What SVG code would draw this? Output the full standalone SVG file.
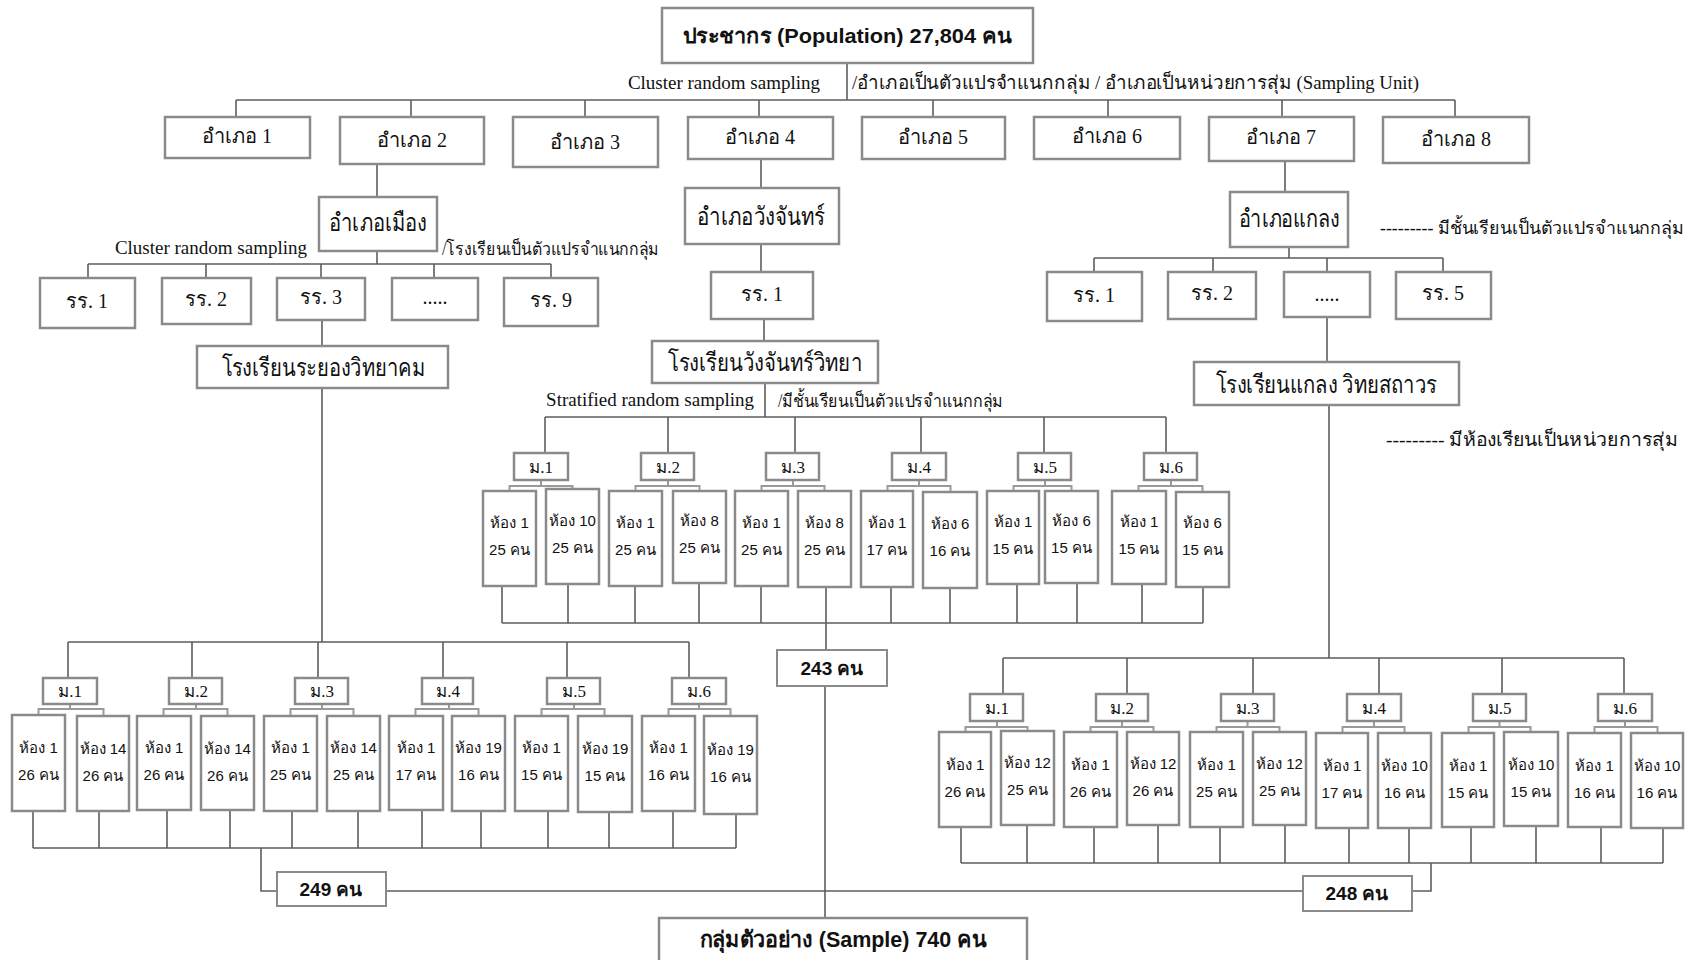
<svg xmlns="http://www.w3.org/2000/svg" width="1699" height="960" viewBox="0 0 1699 960">
<style>
.bx{fill:#fff;stroke:#8a8a8a;stroke-width:2.5}
.sb{fill:#fff;stroke:#8a8a8a;stroke-width:2}
.ln{fill:none;stroke:#5e5e5e;stroke-width:1.6}
.br{fill:none;stroke:#9a9a9a;stroke-width:2}
text{fill:#111;text-anchor:middle}
.th{font-family:"Liberation Serif","Noto Sans",serif}
.en{font-family:"Liberation Serif",serif;font-size:19px}
.bd{font-family:"Liberation Sans","Noto Sans",sans-serif;font-weight:bold}
.rm{font-family:"Liberation Sans","Noto Sans",sans-serif;font-size:15px}
.mm{font-family:"Liberation Serif","Noto Sans",serif;font-size:17px}
.l{text-anchor:start}
.r{text-anchor:end}
</style>
<g id="connectors">
<path class="ln" d="M847 63V100M236 100H1455M236 100V117M411 100V117M585 100V117M759 100V117M933 100V117M1108 100V117M1282 100V117M1455 100V117"/>
<path class="ln" d="M377 164V197M377 251V264M88 264H551M88 264V278M206 264V278M321 264V278M434 264V278M551 264V278M322 320V346M322 388V642"/>
<path class="ln" d="M761 159V188M761 244V272M764 319V341M765 383V417M545 417H1166M545 417V453M668 417V453M795 417V453M921 417V453M1044 417V453M1166 417V453"/>
<path class="ln" d="M1285 161V192M1289 247V258M1094 258H1443M1094 258V272M1213 258V272M1327 258V272M1443 258V272M1327 317V362M1329 405V658"/>
<path class="ln" d="M68 642H689M68 642V678M192 642V678M318 642V678M443 642V678M567 642V678M689 642V678"/>
<path class="ln" d="M1003 658H1624M1003 658V694M1127 658V694M1253 658V694M1379 658V694M1502 658V694M1624 658V694"/>
<path class="br" d="M509.5 491V486H572.5V491M541 480V486M635.5 491V486H699.5V491M668 480V486M761.5 491V486H824.5V491M793 480V486M887.5 491V486H950.5V491M919 480V486M1013.5 491V486H1071.5V491M1045 480V486M1138.5 491V486H1202.5V491M1171 480V486"/>
<path class="br" d="M38.5 715V709H103.5V715M70 704V709M163.5 715V709H227.5V715M196 704V709M290.5 715V709H353.5V715M322 704V709M415.5 715V709H478.5V715M449 704V709M541.5 715V709H604.5V715M574 704V709M668.5 715V709H730.5V715M699 704V709"/>
<path class="br" d="M965.5 732V727H1027.5V732M997 721V727M1090.5 732V727H1153.5V732M1122 721V727M1216.5 732V727H1279.5V732M1247.5 721V727M1342.5 732V727H1404.5V732M1374 721V727M1468.5 732V727H1530.5V732M1499.5 721V727M1594.5 732V727H1657.5V732M1625 721V727"/>
<path class="ln" d="M502 586V623M568 584V623M635 586V623M699 583V623M761 586V623M826 587V650M891 587V623M950 588V623M1017 584V623M1077 583V623M1142 584V623M1203 587V623M502 623H1203M825 686V918"/>
<path class="ln" d="M33 811V848M99 811V848M167 810V848M230 810V848M292 811V848M358 811V848M422 810V848M481 811V848M548 811V848M609 812V848M673 811V848M736 814V848M33 848H736M261 848V891H277M386 891H1303"/>
<path class="ln" d="M961 827V863M1027 825V863M1094 827V863M1158 825V863M1220 827V863M1285 825V863M1349 828V863M1409 828V863M1471 827V863M1536 826V863M1601 827V863M1663 828V863M961 863H1663M1431 863V891H1412"/>
</g>
<g id="population"><rect class="bx" x="662" y="8" width="371" height="55"/><text class="bd" x="847" y="43" font-size="21" textLength="328" lengthAdjust="spacingAndGlyphs">ประชากร (Population) 27,804 คน</text></g>
<g id="label-top"><text class="en r" x="820" y="89">Cluster random sampling</text><text class="th l" x="852" y="89" font-size="19" textLength="567" lengthAdjust="spacingAndGlyphs">/อำเภอเป็นตัวแปรจำแนกกลุ่ม / อำเภอเป็นหน่วยการสุ่ม (Sampling Unit)</text></g>
<g id="amphoe1"><rect class="bx" x="165" y="117" width="145" height="41"/><text class="th" x="237" y="143" font-size="20">อำเภอ 1</text></g>
<g id="amphoe2"><rect class="bx" x="340" y="117" width="144" height="47"/><text class="th" x="412" y="147" font-size="20">อำเภอ 2</text></g>
<g id="amphoe3"><rect class="bx" x="513" y="117" width="145" height="50"/><text class="th" x="585" y="149" font-size="20">อำเภอ 3</text></g>
<g id="amphoe4"><rect class="bx" x="688" y="117" width="145" height="42"/><text class="th" x="760" y="144" font-size="20">อำเภอ 4</text></g>
<g id="amphoe5"><rect class="bx" x="862" y="117" width="143" height="42"/><text class="th" x="933" y="144" font-size="20">อำเภอ 5</text></g>
<g id="amphoe6"><rect class="bx" x="1034" y="117" width="146" height="42"/><text class="th" x="1107" y="143" font-size="20">อำเภอ 6</text></g>
<g id="amphoe7"><rect class="bx" x="1209" y="117" width="145" height="44"/><text class="th" x="1281" y="144" font-size="20">อำเภอ 7</text></g>
<g id="amphoe8"><rect class="bx" x="1383" y="117" width="146" height="46"/><text class="th" x="1456" y="146" font-size="20">อำเภอ 8</text></g>
<g id="mueang"><rect class="bx" x="319" y="197" width="118" height="54"/><text class="th" x="378" y="231" font-size="25" textLength="98" lengthAdjust="spacingAndGlyphs">อำเภอเมือง</text></g>
<g id="label-mueang"><text class="en r" x="307" y="254">Cluster random sampling</text><text class="th l" x="442" y="255" font-size="18" textLength="217" lengthAdjust="spacingAndGlyphs">/โรงเรียนเป็นตัวแปรจำแนกกลุ่ม</text></g>
<g id="rr-m1"><rect class="bx" x="40" y="278" width="95" height="50"/><text class="th" x="87" y="308" font-size="20">รร. 1</text></g>
<g id="rr-m2"><rect class="bx" x="162" y="278" width="89" height="46"/><text class="th" x="206" y="306" font-size="20">รร. 2</text></g>
<g id="rr-m3"><rect class="bx" x="277" y="278" width="88" height="42"/><text class="th" x="321" y="304" font-size="20">รร. 3</text></g>
<g id="rr-mdots"><rect class="bx" x="392" y="278" width="86" height="42"/><text class="th" x="435" y="304" font-size="20">.....</text></g>
<g id="rr-m9"><rect class="bx" x="504" y="278" width="94" height="48"/><text class="th" x="551" y="307" font-size="20">รร. 9</text></g>
<g id="rayong"><rect class="bx" x="197" y="346" width="251" height="42"/><text class="th" x="323" y="376" font-size="25" textLength="203" lengthAdjust="spacingAndGlyphs">โรงเรียนระยองวิทยาคม</text></g>
<g id="wangchan"><rect class="bx" x="685" y="188" width="154" height="56"/><text class="th" x="761" y="225" font-size="25" textLength="128" lengthAdjust="spacingAndGlyphs">อำเภอวังจันทร์</text></g>
<g id="rr-w1"><rect class="bx" x="711" y="272" width="102" height="47"/><text class="th" x="762" y="301" font-size="20">รร. 1</text></g>
<g id="wangchan-school"><rect class="bx" x="652" y="341" width="226" height="42"/><text class="th" x="765" y="371" font-size="25" textLength="194" lengthAdjust="spacingAndGlyphs">โรงเรียนวังจันทร์วิทยา</text></g>
<g id="label-strat"><text class="en r" x="754" y="406">Stratified random sampling</text><text class="th l" x="778" y="407" font-size="18" textLength="225" lengthAdjust="spacingAndGlyphs">/มีชั้นเรียนเป็นตัวแปรจำแนกกลุ่ม</text></g>
<g id="klaeng"><rect class="bx" x="1230" y="192" width="118" height="55"/><text class="th" x="1289" y="227" font-size="25" textLength="101" lengthAdjust="spacingAndGlyphs">อำเภอแกลง</text></g>
<g id="rr-k1"><rect class="bx" x="1047" y="272" width="95" height="49"/><text class="th" x="1094" y="302" font-size="20">รร. 1</text></g>
<g id="rr-k2"><rect class="bx" x="1168" y="272" width="88" height="47"/><text class="th" x="1212" y="300" font-size="20">รร. 2</text></g>
<g id="rr-kdots"><rect class="bx" x="1284" y="272" width="86" height="45"/><text class="th" x="1327" y="301" font-size="20">.....</text></g>
<g id="rr-k5"><rect class="bx" x="1396" y="272" width="95" height="47"/><text class="th" x="1443" y="300" font-size="20">รร. 5</text></g>
<g id="klaeng-school"><rect class="bx" x="1194" y="362" width="265" height="43"/><text class="th" x="1326" y="393" font-size="25" textLength="221" lengthAdjust="spacingAndGlyphs">โรงเรียนแกลง วิทยสถาวร</text></g>
<g id="note1"><text class="th l" x="1380" y="234" font-size="18" textLength="304" lengthAdjust="spacingAndGlyphs">--------- มีชั้นเรียนเป็นตัวแปรจำแนกกลุ่ม</text></g>
<g id="note2"><text class="th l" x="1386" y="446" font-size="19" textLength="292" lengthAdjust="spacingAndGlyphs">--------- มีห้องเรียนเป็นหน่วยการสุ่ม</text></g>
<g id="w-grades">
<rect class="bx" x="514" y="453" width="54" height="27"/><text class="mm" x="541" y="473">ม.1</text>
<rect class="bx" x="641" y="453" width="53" height="27"/><text class="mm" x="668" y="473">ม.2</text>
<rect class="bx" x="766" y="453" width="53" height="27"/><text class="mm" x="793" y="473">ม.3</text>
<rect class="bx" x="892" y="453" width="54" height="27"/><text class="mm" x="919" y="473">ม.4</text>
<rect class="bx" x="1018" y="453" width="53" height="27"/><text class="mm" x="1045" y="473">ม.5</text>
<rect class="bx" x="1144" y="453" width="53" height="27"/><text class="mm" x="1171" y="473">ม.6</text>
</g>
<g id="w-rooms">
<rect class="bx" x="483" y="491" width="53" height="95"/><text class="rm" x="509.5" y="528">ห้อง 1</text><text class="rm" x="509.5" y="555">25 คน</text>
<rect class="bx" x="546" y="489" width="53" height="95"/><text class="rm" x="572.5" y="526">ห้อง 10</text><text class="rm" x="572.5" y="553">25 คน</text>
<rect class="bx" x="609" y="491" width="53" height="95"/><text class="rm" x="635.5" y="528">ห้อง 1</text><text class="rm" x="635.5" y="555">25 คน</text>
<rect class="bx" x="673" y="491" width="53" height="92"/><text class="rm" x="699.5" y="526">ห้อง 8</text><text class="rm" x="699.5" y="553">25 คน</text>
<rect class="bx" x="735" y="491" width="53" height="95"/><text class="rm" x="761.5" y="528">ห้อง 1</text><text class="rm" x="761.5" y="555">25 คน</text>
<rect class="bx" x="798" y="491" width="53" height="96"/><text class="rm" x="824.5" y="528">ห้อง 8</text><text class="rm" x="824.5" y="555">25 คน</text>
<rect class="bx" x="861" y="491" width="52" height="96"/><text class="rm" x="887" y="528">ห้อง 1</text><text class="rm" x="887" y="555">17 คน</text>
<rect class="bx" x="923" y="492" width="54" height="96"/><text class="rm" x="950" y="529">ห้อง 6</text><text class="rm" x="950" y="556">16 คน</text>
<rect class="bx" x="987" y="491" width="52" height="93"/><text class="rm" x="1013" y="527">ห้อง 1</text><text class="rm" x="1013" y="554">15 คน</text>
<rect class="bx" x="1045" y="491" width="53" height="92"/><text class="rm" x="1071.5" y="526">ห้อง 6</text><text class="rm" x="1071.5" y="553">15 คน</text>
<rect class="bx" x="1112" y="491" width="54" height="93"/><text class="rm" x="1139" y="527">ห้อง 1</text><text class="rm" x="1139" y="554">15 คน</text>
<rect class="bx" x="1176" y="492" width="53" height="95"/><text class="rm" x="1202.5" y="528">ห้อง 6</text><text class="rm" x="1202.5" y="555">15 คน</text>
</g>
<g id="w-total"><rect class="sb" x="777" y="650" width="110" height="36"/><text class="bd" x="832" y="675" font-size="19">243 คน</text></g>
<g id="r-grades">
<rect class="bx" x="43" y="678" width="54" height="26"/><text class="mm" x="70" y="697">ม.1</text>
<rect class="bx" x="169" y="678" width="53" height="26"/><text class="mm" x="196" y="697">ม.2</text>
<rect class="bx" x="295" y="678" width="53" height="26"/><text class="mm" x="322" y="697">ม.3</text>
<rect class="bx" x="422" y="678" width="51" height="26"/><text class="mm" x="448" y="697">ม.4</text>
<rect class="bx" x="547" y="678" width="53" height="26"/><text class="mm" x="574" y="697">ม.5</text>
<rect class="bx" x="672" y="678" width="54" height="26"/><text class="mm" x="699" y="697">ม.6</text>
</g>
<g id="r-rooms">
<rect class="bx" x="12" y="715" width="53" height="96"/><text class="rm" x="38.5" y="753">ห้อง 1</text><text class="rm" x="38.5" y="780">26 คน</text>
<rect class="bx" x="77" y="716" width="52" height="95"/><text class="rm" x="103" y="754">ห้อง 14</text><text class="rm" x="103" y="781">26 คน</text>
<rect class="bx" x="137" y="716" width="54" height="94"/><text class="rm" x="164" y="753">ห้อง 1</text><text class="rm" x="164" y="780">26 คน</text>
<rect class="bx" x="201" y="716" width="53" height="94"/><text class="rm" x="227.5" y="754">ห้อง 14</text><text class="rm" x="227.5" y="781">26 คน</text>
<rect class="bx" x="264" y="716" width="53" height="95"/><text class="rm" x="290.5" y="753">ห้อง 1</text><text class="rm" x="290.5" y="780">25 คน</text>
<rect class="bx" x="327" y="716" width="53" height="95"/><text class="rm" x="353.5" y="753">ห้อง 14</text><text class="rm" x="353.5" y="780">25 คน</text>
<rect class="bx" x="389" y="716" width="54" height="94"/><text class="rm" x="416" y="753">ห้อง 1</text><text class="rm" x="416" y="780">17 คน</text>
<rect class="bx" x="452" y="716" width="53" height="95"/><text class="rm" x="478.5" y="753">ห้อง 19</text><text class="rm" x="478.5" y="780">16 คน</text>
<rect class="bx" x="515" y="716" width="53" height="95"/><text class="rm" x="541.5" y="753">ห้อง 1</text><text class="rm" x="541.5" y="780">15 คน</text>
<rect class="bx" x="578" y="716" width="54" height="96"/><text class="rm" x="605" y="754">ห้อง 19</text><text class="rm" x="605" y="781">15 คน</text>
<rect class="bx" x="642" y="716" width="53" height="95"/><text class="rm" x="668.5" y="753">ห้อง 1</text><text class="rm" x="668.5" y="780">16 คน</text>
<rect class="bx" x="704" y="716" width="53" height="98"/><text class="rm" x="730.5" y="755">ห้อง 19</text><text class="rm" x="730.5" y="782">16 คน</text>
</g>
<g id="r-total"><rect class="sb" x="277" y="872" width="109" height="34"/><text class="bd" x="331" y="896" font-size="19">249 คน</text></g>
<g id="k-grades">
<rect class="bx" x="970" y="694" width="53" height="27"/><text class="mm" x="997" y="714">ม.1</text>
<rect class="bx" x="1096" y="694" width="52" height="27"/><text class="mm" x="1122" y="714">ม.2</text>
<rect class="bx" x="1221" y="694" width="53" height="27"/><text class="mm" x="1247.5" y="714">ม.3</text>
<rect class="bx" x="1347" y="694" width="54" height="27"/><text class="mm" x="1374" y="714">ม.4</text>
<rect class="bx" x="1473" y="694" width="53" height="27"/><text class="mm" x="1499.5" y="714">ม.5</text>
<rect class="bx" x="1598" y="694" width="54" height="27"/><text class="mm" x="1625" y="714">ม.6</text>
</g>
<g id="k-rooms">
<rect class="bx" x="939" y="732" width="52" height="95"/><text class="rm" x="965" y="770">ห้อง 1</text><text class="rm" x="965" y="797">26 คน</text>
<rect class="bx" x="1001" y="731" width="53" height="94"/><text class="rm" x="1027.5" y="768">ห้อง 12</text><text class="rm" x="1027.5" y="795">25 คน</text>
<rect class="bx" x="1064" y="732" width="53" height="95"/><text class="rm" x="1090.5" y="770">ห้อง 1</text><text class="rm" x="1090.5" y="797">26 คน</text>
<rect class="bx" x="1127" y="732" width="52" height="93"/><text class="rm" x="1153" y="769">ห้อง 12</text><text class="rm" x="1153" y="796">26 คน</text>
<rect class="bx" x="1190" y="732" width="53" height="95"/><text class="rm" x="1216.5" y="770">ห้อง 1</text><text class="rm" x="1216.5" y="797">25 คน</text>
<rect class="bx" x="1253" y="732" width="53" height="93"/><text class="rm" x="1279.5" y="769">ห้อง 12</text><text class="rm" x="1279.5" y="796">25 คน</text>
<rect class="bx" x="1316" y="733" width="52" height="95"/><text class="rm" x="1342" y="771">ห้อง 1</text><text class="rm" x="1342" y="798">17 คน</text>
<rect class="bx" x="1378" y="733" width="53" height="95"/><text class="rm" x="1404.5" y="771">ห้อง 10</text><text class="rm" x="1404.5" y="798">16 คน</text>
<rect class="bx" x="1442" y="733" width="52" height="94"/><text class="rm" x="1468" y="771">ห้อง 1</text><text class="rm" x="1468" y="798">15 คน</text>
<rect class="bx" x="1504" y="732" width="54" height="94"/><text class="rm" x="1531" y="770">ห้อง 10</text><text class="rm" x="1531" y="797">15 คน</text>
<rect class="bx" x="1568" y="733" width="53" height="94"/><text class="rm" x="1594.5" y="771">ห้อง 1</text><text class="rm" x="1594.5" y="798">16 คน</text>
<rect class="bx" x="1631" y="733" width="52" height="95"/><text class="rm" x="1657" y="771">ห้อง 10</text><text class="rm" x="1657" y="798">16 คน</text>
</g>
<g id="k-total"><rect class="sb" x="1303" y="876" width="109" height="35"/><text class="bd" x="1357" y="900" font-size="19">248 คน</text></g>
<g id="sample"><rect class="bx" x="659" y="918" width="368" height="50"/><text class="bd" x="843" y="947" font-size="22" textLength="287" lengthAdjust="spacingAndGlyphs">กลุ่มตัวอย่าง (Sample) 740 คน</text></g>
</svg>
